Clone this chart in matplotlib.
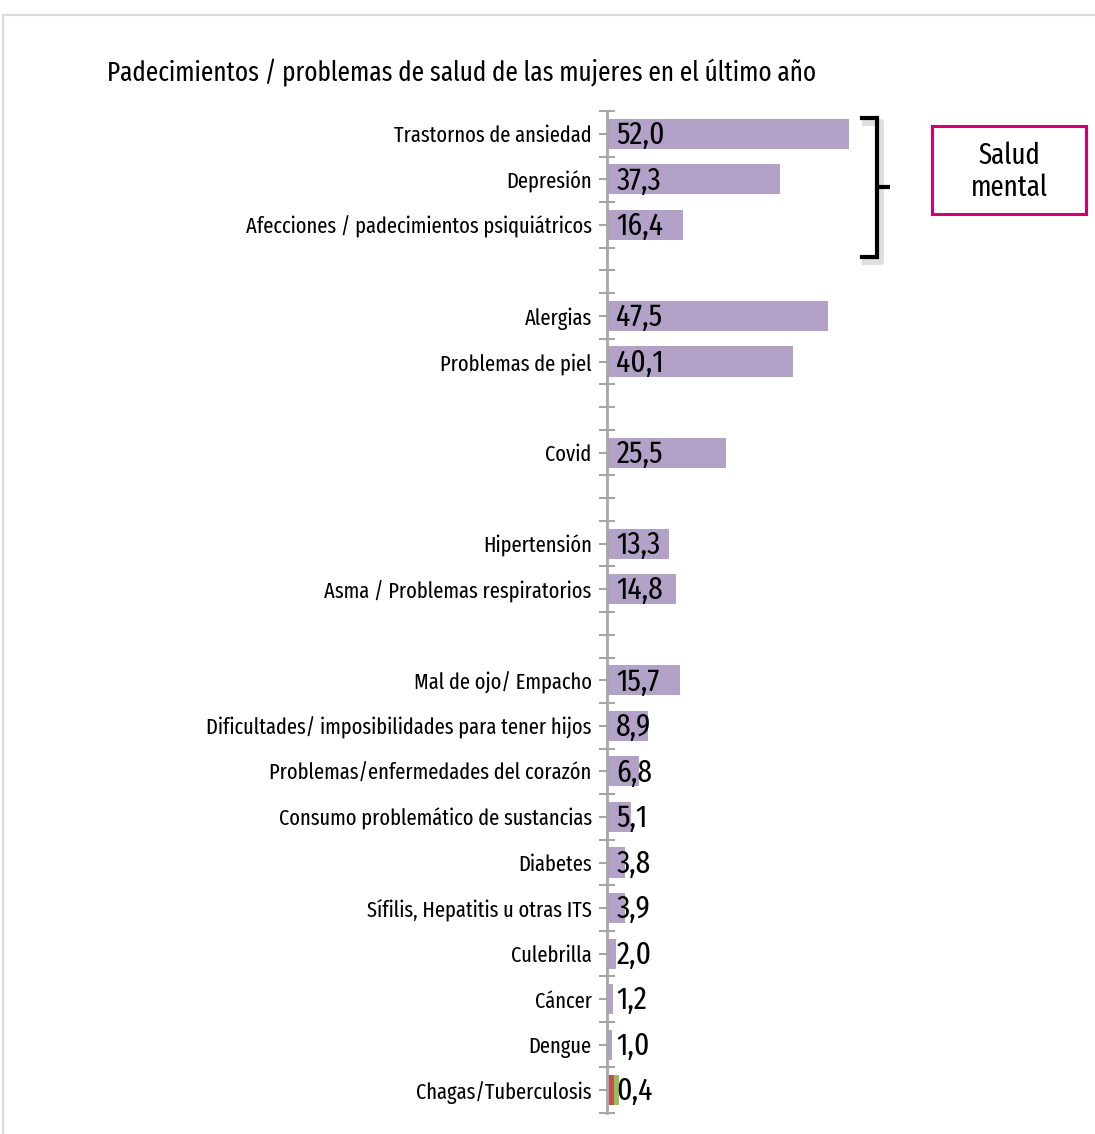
import matplotlib
matplotlib.use("Agg")
import numpy as np
from matplotlib import pyplot as plt
from matplotlib.patches import Rectangle
from matplotlib.lines import Line2D

plt.rcParams['font.family'] = ['Fira Sans Extra Condensed', 'DejaVu Sans']
plt.rcParams['font.stretch'] = 'condensed'

# rows top to bottom, None = empty spacer row
categories = ["Trastornos de ansiedad", "Depresión", "Afecciones / padecimientos psiquiátricos", None,
              "Alergias", "Problemas de piel", None, "Covid", None,
              "Hipertensión", "Asma / Problemas respiratorios", None,
              "Mal de ojo/ Empacho", "Dificultades/ imposibilidades para tener hijos",
              "Problemas/enfermedades del corazón", "Consumo problemático de sustancias",
              "Diabetes", "Sífilis, Hepatitis u otras ITS", "Culebrilla", "Cáncer", "Dengue",
              "Chagas/Tuberculosis"]
values = [52.0, 37.3, 16.4, None, 47.5, 40.1, None, 25.5, None, 13.3, 14.8, None,
          15.7, 8.9, 6.8, 5.1, 3.8, 3.9, 2.0, 1.2, 1.0, 0.4]
# extra stacked pieces on the last bar (red, green)
extra_red = 1.1
extra_green = 1.1

title = "Padecimientos / problemas de salud de las mujeres en el último año"
lav = "#b3a2c7"

W, H = 1095, 1134
fig = plt.figure(figsize=(W / 100, H / 100), dpi=100)

# outer light frame
fig.add_artist(Rectangle((3 / W, -0.1), 1.2, 1 - 15 / H + 0.1, transform=fig.transFigure,
                         fill=False, edgecolor="#d9d9d9", linewidth=1.5))

ax = fig.add_axes([607 / W, 1 - 1113 / H, (1085 - 607) / W, (1113 - 111) / H])
n = len(categories)
ax.set_ylim(n - 0.5, -0.5)
ax.set_xlim(0, 478 / 4.65)

for i, (cat, v) in enumerate(zip(categories, values)):
    if v is None:
        continue
    ax.barh(i, v, height=0.66, color=lav, edgecolor="none")
    ax.text(2.0, i + 0.03, f"{v:.1f}".replace(".", ","), va="center", ha="left", fontsize=23,
            color="black")

last = n - 1
ax.barh(last, extra_red, left=values[-1], height=0.66, color="#c0504d", edgecolor="none")
ax.barh(last, extra_green, left=values[-1] + extra_red, height=0.66, color="#9bbb59", edgecolor="none")

# ticks
lab_pos = [i for i, c in enumerate(categories) if c is not None]
empty_pos = [i for i, c in enumerate(categories) if c is None]
ax.set_yticks(lab_pos)
ax.set_yticklabels([categories[i] for i in lab_pos], fontsize=16)
ax.set_yticks(list(np.arange(-0.5, n, 1.0)) + empty_pos, minor=True)
ax.tick_params(axis="y", which="major", direction="out", length=6, width=1.5, color="#a6a6a6", pad=5)
ax.tick_params(axis="y", which="minor", direction="inout", length=12, width=1.5, color="#a6a6a6")
ax.set_xticks([])
for s in ["top", "right", "bottom"]:
    ax.spines[s].set_visible(False)
ax.spines["left"].set_color("#a6a6a6")
ax.spines["left"].set_linewidth(2)

fig.text(107 / W, 1 - 73 / H, title, fontsize=19.7, va="center", ha="left")

# bracket
bx = np.array([862, 877, 877, 877, 862])
by = np.array([118, 118, 187, 257, 257])
fig.add_artist(Line2D((bx + 3) / W, 1 - (by + 4) / H, transform=fig.transFigure,
                      color="gray", alpha=0.25, linewidth=5, solid_joinstyle="round"))
fig.add_artist(Line2D(bx / W, 1 - by / H, transform=fig.transFigure,
                      color="black", linewidth=3, solid_joinstyle="miter"))
fig.add_artist(Line2D(np.array([877, 890]) / W, 1 - np.array([187, 187]) / H,
                      transform=fig.transFigure, color="black", linewidth=3,
                      solid_capstyle="butt"))

# box
fig.add_artist(Rectangle((932 / W, 1 - 214 / H), (1086 - 932) / W, (214 - 126) / H,
                         transform=fig.transFigure, fill=False, edgecolor="#d0006f", linewidth=2.2))
fig.text(1009 / W, 1 - 172 / H, "Salud\nmental", fontsize=21, ha="center", va="center",
         linespacing=1.15)

fig.savefig("out.png", dpi=100)
